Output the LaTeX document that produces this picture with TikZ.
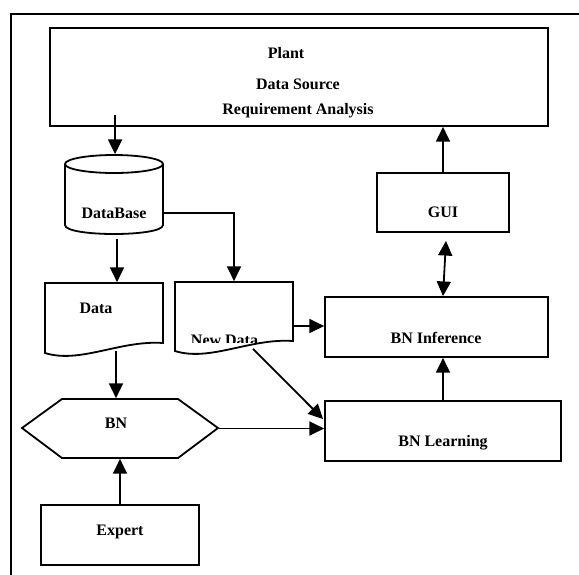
\documentclass[tikz,border=0pt]{standalone}
\usepackage{fontspec}
\setmainfont{Liberation Serif}
\usetikzlibrary{arrows.meta,calc}
\begin{document}
\begin{tikzpicture}[x=0.75pt,y=-0.75pt,line width=1.35pt,
  txt/.style={inner sep=0pt,anchor=base,font=\fontsize{12}{14}\selectfont\bfseries},
  boxed/.style={draw,rectangle,inner sep=0pt},
  extent/.style={rectangle,inner sep=0pt},
  arr/.style={-{Triangle[length=11pt,width=10.5pt]}},
  darr/.style={{Triangle[length=11pt,width=10.5pt]}-{Triangle[length=11pt,width=10.5pt]}}]
\useasboundingbox (0,0) rectangle (579,575);

% outer frame (left and top edges)
\draw (11,575) -- (11,14) -- (579,14);

% rectangular blocks
\node[boxed,minimum width=373.5pt,minimum height=73.5pt] (plant) at (299,77) {};
\node[boxed,minimum width=99pt,minimum height=44.25pt] (gui) at (443,202.5) {};
\node[boxed,minimum width=167.25pt,minimum height=45pt] (inf) at (436.5,327) {};
\node[boxed,minimum width=177pt,minimum height=45pt] (learn) at (443,431) {};
\node[boxed,minimum width=118.5pt,minimum height=45pt] (expert) at (120,535) {};

% database cylinder
\node[extent,minimum width=73.5pt,minimum height=59.25pt] (db) at (114,194.5) {};
\draw (114,164) ellipse [x radius=49, y radius=9];
\draw (65,164) -- (65,225) .. controls (65,237) and (163,237) .. (163,225) -- (163,164);

% document shapes
\node[extent,minimum width=88.5pt,minimum height=52.5pt] (data) at (104,318) {};
\draw (45,283) -- (163,283) -- (163,343) .. controls (120,340) and (80,364) .. (45,353) -- cycle;
\node[extent,minimum width=88.5pt,minimum height=51.75pt] (nd) at (234,316.5) {};
\draw (175,282) -- (293,282) -- (293,341) .. controls (250,338) and (210,362) .. (175,351) -- cycle;

% hexagon
\node[extent,minimum width=147pt,minimum height=44.25pt] (bn) at (120,428.5) {};
\draw (22,428) -- (62,399) -- (178,399) -- (218,428) -- (178,458) -- (62,458) -- cycle;

% labels
\node[txt] (plantA) at (286,58) {Plant};
\node[txt] (plantB) at (298,89) {Data Source};
\node[txt] (plantC) at (298,114) {Requirement Analysis};
\node[txt] (dbT) at (114,218) {DataBase};
\node[txt] (dataT) at (96,313) {Data};
\begin{scope}
  \clip (170,300) rectangle (300,342);
  \node[txt] (ndT) at (224.5,345) {New Data};
\end{scope}
\node[txt] (guiT) at (443,217) {GUI};
\node[txt] (infT) at (436,343) {BN Inference};
\node[txt] (learnT) at (443,446) {BN Learning};
\node[txt] (bnT) at (116,428) {BN};
\node[txt] (expertT) at (120,535) {Expert};

% connectors
\coordinate (pdb) at ($(plant.south west)+(66,-12)$);
\draw[arr] (pdb) -- (pdb |- db.north);
\coordinate (dbr) at ($(db.east)+(0,18.5)$);
\draw[arr] (dbr) -| (nd.north);
\coordinate (dbb) at ($(db.south)+(3,4)$);
\draw[arr] (dbb) -- (dbb |- data.north);
\coordinate (dtb) at ($(data.south)+(12,-3)$);
\draw[arr] (dtb) -- (dtb |- bn.north);
\draw[arr] (expert.north) -- (expert.north |- bn.south);
\draw[arr] (bn.east) -- (bn.east -| learn.west);
\coordinate (ndb) at ($(nd.south)+(19,-3)$);
\draw[arr] (ndb) -- ($(learn.north west)+(-1,19)$);
\coordinate (ndr) at ($(nd.east)+(0,9.5)$);
\draw[arr] (ndr) -- (ndr -| inf.west);
\draw[arr] (learn.north) -- (learn.north |- inf.south);
\draw[darr] ($(gui.south)+(3,8)$) -- (gui.south |- inf.north);
\draw[arr] (gui.north) -- (gui.north |- plant.south);
\end{tikzpicture}
\end{document}
